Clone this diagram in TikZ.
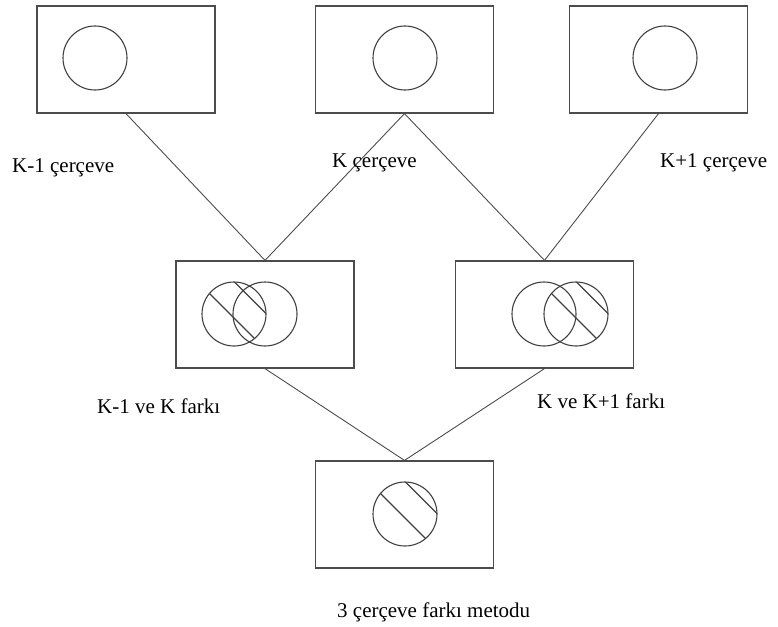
\documentclass[tikz,border=0pt]{standalone}
\usepackage{fontspec}
\setmainfont{Liberation Serif}
\usetikzlibrary{positioning,calc}

% two parallel stripes across a circle node
\newcommand{\stripes}[1]{%
    \begin{scope}
        \clip (#1.center) circle (32);
        \draw[black!75,line width=1.1pt] ($(#1.center)+(-36,-32)$) -- ($(#1.center)+(32,36)$);
        \draw[black!75,line width=1.1pt] ($(#1.center)+(-10,-42.5)$) -- ($(#1.center)+(42.5,10)$);
    \end{scope}}

\begin{document}
\begin{tikzpicture}[x=1pt,y=-1pt,
    frame/.style={draw=black!70,line width=1.2pt,minimum width=178pt,minimum height=107pt,inner sep=0pt},
    blob/.style={draw=black!75,line width=1.1pt,circle,minimum size=64pt,inner sep=0pt},
    link/.style={draw=black!70,line width=0.9pt},
    lbl/.style={anchor=base west,inner sep=0pt,font=\fontsize{21}{25}\selectfont}]
    \useasboundingbox (0,0) rectangle (778,626);

    % Frames
    \node[frame] (fA) at (126,59.5) {};
    \node[frame] (fB) at (404.5,59.5) {};
    \node[frame] (fC) at (658.5,59.5) {};
    \node[blob] (cA) at (95,58) {};
    \node[blob] (cB) at (405,58) {};
    \node[blob] (cC) at (665,58) {};

    % Differences
    \node[frame] (dA) at (265,314.5) {};
    \node[frame] (dB) at (544.5,314.5) {};
    \node[blob] (dA1) at (234,314) {};
    \node[blob] (dA2) at (265,314) {};
    \node[blob] (dB1) at (544,314) {};
    \node[blob] (dB2) at (576,314) {};
    \stripes{dA1}
    \stripes{dB2}

    % Result
    \node[frame] (res) at (404.5,514.5) {};
    \node[blob] (r1) at (405,514) {};
    \stripes{r1}

    % Lines
    \draw[link] (fA.south) -- (dA.north);
    \draw[link] (fB.south) -- (dA.north);
    \draw[link] (fB.south) -- (dB.north);
    \draw[link] (fC.south) -- (dB.north);
    \draw[link] (dA.south) -- (res.north);
    \draw[link] (dB.south) -- (res.north);

    % Labels
    \node[lbl] (lA) at (12,172) {K-1 çerçeve};
    \node[lbl] (lB) at (332,167) {K çerçeve};
    \node[lbl] (lC) at (660,167) {K+1 çerçeve};
    \node[lbl] (lAB) at (97,413) {K-1 ve K farkı};
    \node[lbl] (lBC) at (537,408) {K ve K+1 farkı};
    \node[lbl] (lres) at (337,617) {3 çerçeve farkı metodu};
\end{tikzpicture}
\end{document}
